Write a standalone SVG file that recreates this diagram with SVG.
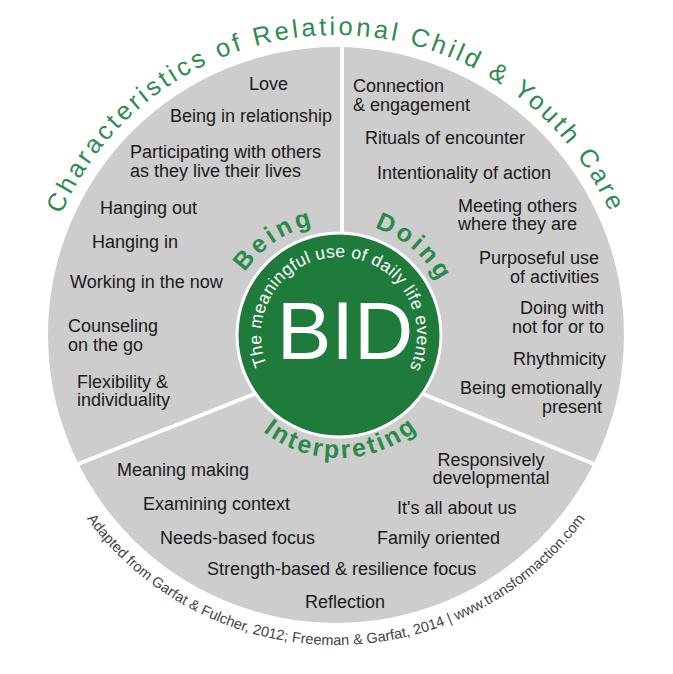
<svg xmlns="http://www.w3.org/2000/svg" width="673" height="674" viewBox="0 0 673 674">
<style>
.item{font-family:"Liberation Sans",Arial,sans-serif;font-size:18px;fill:#1a1a1a}
.r{text-anchor:end}
.title{font-family:"Liberation Sans",Arial,sans-serif;font-size:25.5px;fill:#2e8b4e;letter-spacing:3.2px}
.head{font-family:"Liberation Sans",Arial,sans-serif;font-size:25px;font-weight:bold;fill:#2b8a4a;letter-spacing:3.5px}
.inner{font-family:"Liberation Sans",Arial,sans-serif;font-size:17.5px;fill:#ffffff;letter-spacing:0.3px}
.credit{font-family:"Liberation Sans",Arial,sans-serif;font-size:14.5px;fill:#444444}
.div{stroke:#ffffff;stroke-width:4;fill:none}
</style>
<defs>
<path id="titleArc" d="M 336 635 A 300 300 0 0 1 336 35 A 300 300 0 0 1 336 635"/>
<path id="headArc" d="M 339 448 A 113 113 0 0 1 339 222 A 113 113 0 0 1 339 448"/>
<path id="interpArc" d="M 339 212 A 123 123 0 0 0 339 458 A 123 123 0 0 0 339 212"/>
<path id="innerArc" d="M 339 413 A 78 78 0 0 1 339 257 A 78 78 0 0 1 339 413"/>
<path id="creditArc" d="M 336 27 A 309 309 0 0 0 336 645 A 309 309 0 0 0 336 27"/>
</defs>
<rect width="673" height="674" fill="#ffffff"/>
<g id="wheel">
<circle cx="336" cy="335" r="288" fill="#cdcdcd"/>
</g>
<g id="connectors">
<line class="div" x1="342" y1="44" x2="342" y2="340"/>
<line class="div" x1="78" y1="464" x2="340" y2="360"/>
<line class="div" x1="594" y1="464" x2="340" y2="360"/>
</g>
<g id="title">
<text class="title"><textPath href="#titleArc" startOffset="50%" text-anchor="middle">Characteristics of Relational Child &amp; Youth Care</textPath></text>
</g>
<g id="being">
<text class="head"><textPath href="#headArc" startOffset="40.5%" text-anchor="middle">Being</textPath></text>
<text class="item" x="249" y="90">Love</text>
<text class="item" x="170" y="122">Being in relationship</text>
<text class="item" x="130" y="158">Participating with others</text>
<text class="item" x="130" y="177">as they live their lives</text>
<text class="item" x="100" y="214">Hanging out</text>
<text class="item" x="92" y="248">Hanging in</text>
<text class="item" x="70" y="288">Working in the now</text>
<text class="item" x="68" y="332">Counseling</text>
<text class="item" x="68" y="351">on the go</text>
<text class="item" x="77" y="388">Flexibility &amp;</text>
<text class="item" x="77" y="406">individuality</text>
</g>
<g id="doing">
<text class="head"><textPath href="#headArc" startOffset="61.3%" text-anchor="middle">Doing</textPath></text>
<text class="item" x="353" y="92">Connection</text>
<text class="item" x="353" y="111">&amp; engagement</text>
<text class="item" x="365" y="144">Rituals of encounter</text>
<text class="item" x="377" y="179">Intentionality of action</text>
<text class="item" x="458" y="212">Meeting others</text>
<text class="item" x="458" y="230">where they are</text>
<text class="item r" x="599" y="264">Purposeful use</text>
<text class="item r" x="599" y="283">of activities</text>
<text class="item r" x="604" y="314">Doing with</text>
<text class="item r" x="604" y="333">not for or to</text>
<text class="item r" x="606" y="365">Rhythmicity</text>
<text class="item r" x="602" y="394">Being emotionally</text>
<text class="item r" x="602" y="413">present</text>
</g>
<g id="interpreting">
<text class="head" style="letter-spacing:2.5px"><textPath href="#interpArc" startOffset="50.3%" text-anchor="middle">Interpreting</textPath></text>
<text class="item" x="117" y="476">Meaning making</text>
<text class="item" x="143" y="510">Examining context</text>
<text class="item" x="160" y="544">Needs-based focus</text>
<text class="item" x="207" y="575">Strength-based &amp; resilience focus</text>
<text class="item" x="305" y="608">Reflection</text>
<text class="item" x="491" y="466" text-anchor="middle">Responsively</text>
<text class="item" x="491" y="484" text-anchor="middle">developmental</text>
<text class="item" x="397" y="514">It's all about us</text>
<text class="item" x="377" y="544">Family oriented</text>
</g>
<g id="bid">
<circle cx="339" cy="335" r="102" fill="#1e7b3c" stroke="#ffffff" stroke-width="3"/>
<text x="345" y="359" text-anchor="middle" style="font-family:'Liberation Sans',Arial,sans-serif;font-size:82px;fill:#ffffff">BID</text>
<text class="inner"><textPath href="#innerArc" startOffset="50.4%" text-anchor="middle">The meaningful use of daily life events</textPath></text>
</g>
<g id="credit">
<text class="credit"><textPath href="#creditArc" startOffset="50%" text-anchor="middle">Adapted from Garfat &amp; Fulcher, 2012; Freeman &amp; Garfat, 2014 | www.transformaction.com</textPath></text>
</g>
</svg>
